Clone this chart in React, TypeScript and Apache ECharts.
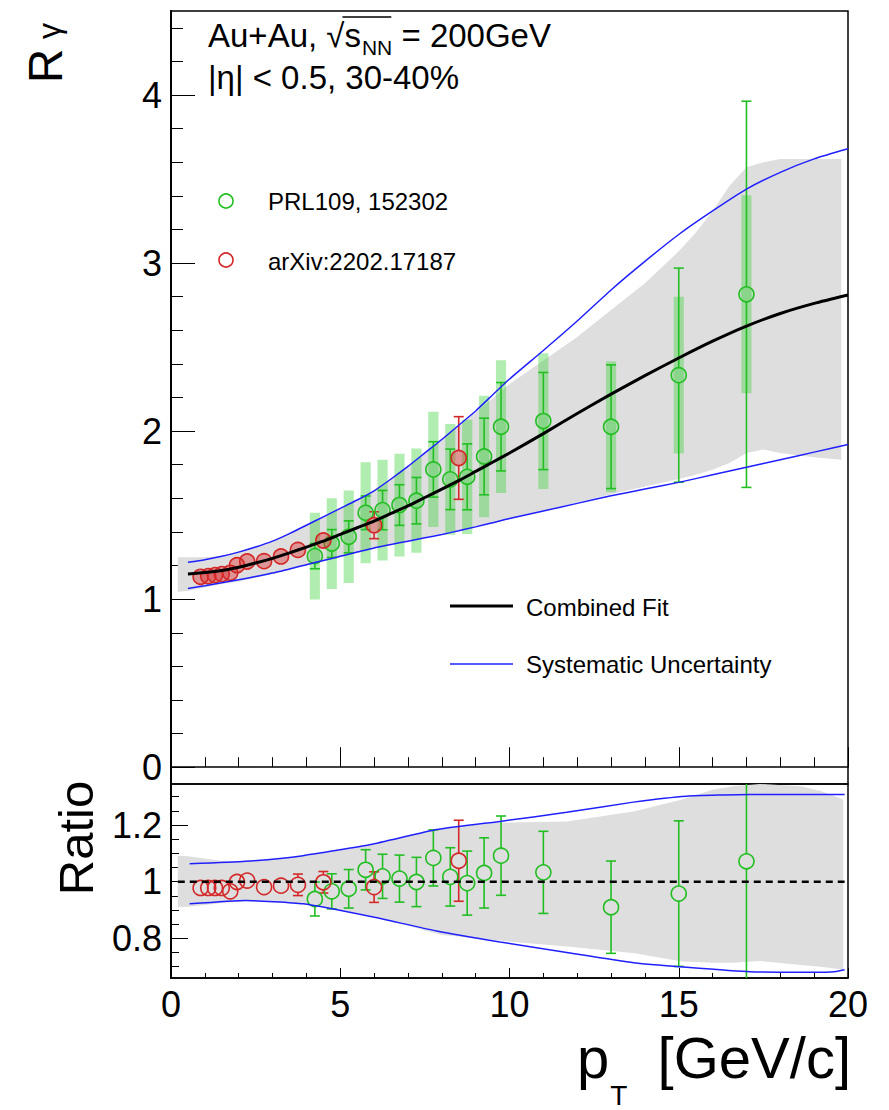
import React, { useEffect, useRef } from "react";
import * as echarts from "echarts";

const FONT = '"Liberation Sans", Arial, Helvetica, sans-serif';

// ---------------- data ----------------
// PRL109, 152302 (green)
const greenPt = [4.25, 4.75, 5.25, 5.75, 6.25, 6.75, 7.25, 7.75, 8.25, 8.75, 9.25, 9.75, 11, 13, 15, 17];
const greenR = [1.256, 1.331, 1.371, 1.514, 1.53, 1.56, 1.586, 1.772, 1.713, 1.728, 1.849, 2.026, 2.06, 2.026, 2.333, 2.814];
const greenStat = [0.075, 0.083, 0.095, 0.1, 0.117, 0.121, 0.138, 0.165, 0.18, 0.196, 0.228, 0.263, 0.289, 0.368, 0.637, 1.149];
const greenSys = [0.258, 0.27, 0.275, 0.3, 0.3, 0.306, 0.31, 0.343, 0.33, 0.34, 0.361, 0.395, 0.404, 0.39, 0.466, 0.589];
const greenRatio = [0.939, 0.966, 0.975, 1.042, 1.019, 1.011, 0.999, 1.084, 1.017, 0.995, 1.031, 1.092, 1.033, 0.91, 0.958, 1.072];
const greenRatioErr = [0.06, 0.062, 0.068, 0.071, 0.078, 0.083, 0.087, 0.099, 0.103, 0.113, 0.124, 0.14, 0.145, 0.163, 0.257, 0.42];

// arXiv:2202.17187 (red)
const redPt = [0.875, 1.1, 1.3, 1.5, 1.75, 1.95, 2.25, 2.75, 3.25, 3.75, 4.5, 6.0, 8.5];
const redR = [1.133, 1.137, 1.143, 1.149, 1.157, 1.202, 1.224, 1.226, 1.254, 1.293, 1.349, 1.44, 1.84];
const redStat = [0.01, 0.01, 0.01, 0.01, 0.01, 0.01, 0.012, 0.015, 0.02, 0.045, 0.048, 0.08, 0.246];
const redRatio = [0.978, 0.978, 0.978, 0.978, 0.966, 0.999, 1.004, 0.981, 0.986, 0.989, 0.998, 0.981, 1.074];
const redRatioErr = [0.008, 0.008, 0.008, 0.008, 0.008, 0.008, 0.01, 0.012, 0.015, 0.038, 0.038, 0.054, 0.143];

// combined fit and its systematic uncertainty (blue)
const fitPt = [0.5, 1, 1.5, 2, 2.5, 3, 3.5, 4, 4.5, 5, 5.5, 6, 6.5, 7, 7.5, 8, 8.5, 9, 9.5, 10, 11, 12, 13, 14, 15, 16, 17, 18, 19, 20];
const fitR = [1.15, 1.158, 1.17, 1.19, 1.215, 1.243, 1.275, 1.31, 1.345, 1.385, 1.425, 1.465, 1.51, 1.555, 1.605, 1.655, 1.705, 1.76, 1.815, 1.87, 1.985, 2.105, 2.22, 2.33, 2.435, 2.535, 2.625, 2.7, 2.76, 2.81];
const sysUpR = [1.22, 1.235, 1.255, 1.28, 1.31, 1.345, 1.39, 1.44, 1.49, 1.54, 1.59, 1.645, 1.715, 1.79, 1.87, 1.95, 2.035, 2.12, 2.215, 2.31, 2.48, 2.655, 2.84, 3.01, 3.17, 3.31, 3.44, 3.54, 3.62, 3.68];
const sysLoR = [1.064, 1.08, 1.097, 1.115, 1.135, 1.155, 1.18, 1.205, 1.23, 1.255, 1.28, 1.305, 1.325, 1.345, 1.365, 1.385, 1.407, 1.43, 1.455, 1.48, 1.525, 1.57, 1.615, 1.655, 1.695, 1.74, 1.785, 1.83, 1.875, 1.92];

// grey band (top panel)
const bandPt = [0.2, 0.5, 1, 1.5, 2, 3, 4, 5, 6, 7, 8, 9, 10, 11, 12, 13, 14, 15, 15.5, 16, 16.5, 17, 17.5, 18, 19, 19.8];
const bandUp = [1.25, 1.25, 1.25, 1.256, 1.285, 1.345, 1.44, 1.54, 1.645, 1.79, 1.95, 2.11, 2.28, 2.42, 2.56, 2.72, 2.88, 3.07, 3.18, 3.31, 3.46, 3.57, 3.6, 3.62, 3.62, 3.62];
const bandLo = [1.043, 1.05, 1.07, 1.09, 1.105, 1.15, 1.2, 1.25, 1.3, 1.345, 1.39, 1.43, 1.48, 1.525, 1.575, 1.625, 1.67, 1.715, 1.74, 1.77, 1.81, 1.87, 1.89, 1.87, 1.845, 1.83];

// ratio panel: grey band and blue systematic lines
const rBandPt = [0.2, 0.5, 1, 1.5, 2.2, 4, 6, 8, 9.7, 11.7, 13.7, 15.1, 16, 16.6, 17.4, 18.6, 19.2, 19.86];
const rBandUp = [1.092, 1.09, 1.082, 1.073, 1.072, 1.092, 1.131, 1.19, 1.208, 1.213, 1.249, 1.29, 1.325, 1.337, 1.345, 1.337, 1.32, 1.29];
const rBandLo = [0.91, 0.912, 0.918, 0.925, 0.932, 0.922, 0.877, 0.812, 0.792, 0.771, 0.747, 0.718, 0.714, 0.714, 0.72, 0.706, 0.7, 0.689];
const rSysPt = [0.55, 2.2, 3.9, 5.9, 7.85, 9.72, 11.69, 13.66, 15.23, 17.1, 19.0, 19.6, 19.9];
const rSysUp = [1.063, 1.072, 1.092, 1.131, 1.184, 1.213, 1.245, 1.281, 1.302, 1.308, 1.308, 1.308, 1.308];
const rSysLo = [0.922, 0.934, 0.922, 0.877, 0.826, 0.787, 0.75, 0.714, 0.698, 0.682, 0.68, 0.682, 0.689];
const unityPt = [0.2, 19.9];
const unityVal = [1, 1];

// tick labels
const xTicks = [0, 5, 10, 15, 20];
const yMajor = [0, 1, 2, 3, 4];
const yMinor = [0.2, 0.4, 0.6, 0.8, 1.2, 1.4, 1.6, 1.8, 2.2, 2.4, 2.6, 2.8, 3.2, 3.4, 3.6, 3.8, 4.2, 4.4];
const rMajor = [0.8, 1, 1.2];
const rMinor = [0.7, 0.75, 0.85, 0.9, 0.95, 1.05, 1.1, 1.15, 1.25, 1.3];

const GREEN = "#22bf22";
const RED = "#d42828";
const BLUE = "#2020ff";
const GREY = "#dedede";

function zip(a: number[], b: number[], c?: number[]) {
  return a.map((v, i) => (c ? [v, b[i], c[i]] : [v, b[i]]));
}

function measure(text: string, size: number) {
  const ctx = document.createElement("canvas").getContext("2d")!;
  ctx.font = `${size}px "Liberation Sans"`;
  return ctx.measureText(text).width;
}

function bandSeries(xs: number[], up: number[], lo: number[], xi: number, yi: number) {
  return {
    type: "custom",
    xAxisIndex: xi,
    yAxisIndex: yi,
    clip: true,
    silent: true,
    data: [[xs[0], up[0]]],
    encode: { x: 0, y: 1 },
    renderItem: (_p: any, api: any) => {
      const pts: number[][] = [];
      xs.forEach((x, i) => pts.push(api.coord([x, up[i]])));
      for (let i = xs.length - 1; i >= 0; i--) pts.push(api.coord([xs[i], lo[i]]));
      return { type: "polygon", shape: { points: pts }, style: { fill: GREY } };
    },
  };
}

function errSeries(data: number[][], color: string, xi: number, yi: number, r: number) {
  return {
    type: "custom",
    xAxisIndex: xi,
    yAxisIndex: yi,
    clip: true,
    silent: true,
    data,
    encode: { x: 0, y: 1 },
    renderItem: (_p: any, api: any) => {
      const x = api.value(0);
      const y = api.value(1);
      const e = api.value(2);
      const c = api.coord([x, y]);
      const t = api.coord([x, y + e]);
      const b = api.coord([x, y - e]);
      const st = { stroke: color, lineWidth: 1.6 };
      const ch: any[] = [];
      if (c[1] - t[1] > r + 1) {
        ch.push({ type: "line", shape: { x1: c[0], y1: c[1] - r, x2: c[0], y2: t[1] }, style: st });
        ch.push({ type: "line", shape: { x1: c[0] - 5, y1: t[1], x2: c[0] + 5, y2: t[1] }, style: st });
      }
      if (b[1] - c[1] > r + 1) {
        ch.push({ type: "line", shape: { x1: c[0], y1: c[1] + r, x2: c[0], y2: b[1] }, style: st });
        ch.push({ type: "line", shape: { x1: c[0] - 5, y1: b[1], x2: c[0] + 5, y2: b[1] }, style: st });
      }
      return { type: "group", children: ch };
    },
  };
}

function boxSeries(data: number[][], xi: number, yi: number) {
  return {
    type: "custom",
    xAxisIndex: xi,
    yAxisIndex: yi,
    clip: true,
    silent: true,
    data,
    encode: { x: 0, y: 1 },
    renderItem: (_p: any, api: any) => {
      const x = api.value(0);
      const y = api.value(1);
      const s = api.value(2);
      const p1 = api.coord([x - 0.15, y + s]);
      const p2 = api.coord([x + 0.15, y - s]);
      return {
        type: "rect",
        shape: { x: p1[0], y: p1[1], width: p2[0] - p1[0], height: p2[1] - p1[1] },
        style: { fill: "rgba(60,210,60,0.4)" },
      };
    },
  };
}

function lineSeries(xs: number[], ys: number[], color: string, width: number, xi: number, yi: number, smooth: number | boolean, dash?: any) {
  return {
    type: "line",
    xAxisIndex: xi,
    yAxisIndex: yi,
    data: zip(xs, ys),
    showSymbol: false,
    symbol: "none",
    smooth,
    silent: true,
    clip: true,
    lineStyle: { color, width, type: dash || "solid" },
  };
}

function markerSeries(data: number[][], color: string, fill: string, xi: number, yi: number) {
  return {
    type: "scatter",
    xAxisIndex: xi,
    yAxisIndex: yi,
    data,
    symbol: "circle",
    symbolSize: 15,
    silent: true,
    clip: true,
    itemStyle: { color: fill, borderColor: color, borderWidth: 1.6, opacity: 1 },
  };
}

export default function App() {
  const ref = useRef<HTMLDivElement>(null);

  useEffect(() => {
    if (!ref.current) return;
    const chart = echarts.init(ref.current, null, { renderer: "svg" });

    const tickStyle = { color: "#000", width: 1 };
    const xAxisBase = {
      type: "value",
      min: 0,
      max: 20,
      interval: 5,
      splitLine: { show: false },
      minorSplitLine: { show: false },
      axisLine: { show: true, lineStyle: { color: "#000", width: 1.5 } },
    };

    // header text layout
    const fs = 33;
    const hx = 208;
    const hb = 47;
    const wA = measure("Au+Au, ", fs);
    const wR = measure("\u221A", fs);
    const wS = measure("s", fs);
    const wNN = measure("NN", 21);
    const xR = hx + wA;
    const xS = xR + wR;
    const xNN = xS + wS + 1;
    const xEq = xNN + wNN;
    const mid = (b: number, s: number) => b - 0.35 * s;
    const txt = (text: string, x: number, y: number, size: number, extra: any = {}) => ({
      type: "text",
      x,
      y,
      style: {
        text,
        fill: "#000",
        font: `${size}px ${FONT}`,
        align: "left",
        verticalAlign: "middle",
        ...extra,
      },
    });

    const wp = measure("p", 58);

    const option: any = {
      animation: false,
      backgroundColor: "#fff",
      grid: [
        { left: 171, top: 11, width: 677, height: 773, show: true, borderColor: "#000", borderWidth: 1.5, backgroundColor: "transparent" },
        { left: 171, top: 784, width: 677, height: 194, show: true, borderColor: "#000", borderWidth: 1.5, backgroundColor: "transparent" },
      ],
      xAxis: [
        {
          ...xAxisBase,
          gridIndex: 0,
          axisLabel: { show: false },
          axisTick: { show: true, inside: true, length: 20, lineStyle: tickStyle },
          minorTick: { show: true, splitNumber: 5, length: 10, lineStyle: tickStyle },
        },
        {
          ...xAxisBase,
          gridIndex: 1,
          axisLabel: {
            show: true,
            customValues: xTicks,
            color: "#000",
            fontSize: 36,
            fontFamily: FONT,
            margin: 8,
          },
          axisTick: { show: true, inside: true, length: 10, lineStyle: tickStyle },
          minorTick: { show: true, splitNumber: 5, length: 5, lineStyle: tickStyle },
        },
      ],
      yAxis: [
        {
          type: "value",
          gridIndex: 0,
          position: "left",
          min: -0.1,
          max: 4.5,
          splitLine: { show: false },
          axisLine: { show: true, lineStyle: { color: "#000", width: 2 } },
          axisLabel: { show: true, customValues: yMajor, color: "#000", fontSize: 36, fontFamily: FONT, margin: 9 },
          axisTick: { show: true, inside: true, customValues: yMajor, length: 24, lineStyle: tickStyle },
        },
        {
          type: "value",
          gridIndex: 0,
          position: "left",
          offset: 0,
          min: -0.1,
          max: 4.5,
          splitLine: { show: false },
          axisLine: { show: false },
          axisLabel: { show: false },
          axisTick: { show: true, inside: true, customValues: yMinor, length: 12, lineStyle: tickStyle },
        },
        {
          type: "value",
          gridIndex: 1,
          position: "left",
          min: 0.66,
          max: 1.345,
          splitLine: { show: false },
          axisLine: { show: true, lineStyle: { color: "#000", width: 2 } },
          axisLabel: {
            show: true,
            customValues: rMajor,
            color: "#000",
            fontSize: 36,
            fontFamily: FONT,
            margin: 9,
            formatter: (v: number) => String(Math.round(v * 10) / 10),
          },
          axisTick: { show: true, inside: true, customValues: rMajor, length: 17, lineStyle: tickStyle },
        },
        {
          type: "value",
          gridIndex: 1,
          position: "left",
          offset: 0,
          min: 0.66,
          max: 1.345,
          splitLine: { show: false },
          axisLine: { show: false },
          axisLabel: { show: false },
          axisTick: { show: true, inside: true, customValues: rMinor, length: 8, lineStyle: tickStyle },
        },
      ],
      series: [
        // top panel
        bandSeries(bandPt, bandUp, bandLo, 0, 0),
        boxSeries(zip(greenPt, greenR, greenSys), 0, 0),
        lineSeries(fitPt, sysUpR, BLUE, 1.5, 0, 0, 0.2),
        lineSeries(fitPt, sysLoR, BLUE, 1.5, 0, 0, 0.2),
        lineSeries(fitPt, fitR, "#000", 3, 0, 0, 0.2),
        errSeries(zip(greenPt, greenR, greenStat), GREEN, 0, 0, 7.5),
        errSeries(zip(redPt, redR, redStat), RED, 0, 0, 7.5),
        markerSeries(zip(greenPt, greenR), GREEN, "rgba(60,200,60,0.2)", 0, 0),
        markerSeries(zip(redPt, redR), RED, "rgba(220,40,40,0.4)", 0, 0),
        // ratio panel
        bandSeries(rBandPt, rBandUp, rBandLo, 1, 2),
        lineSeries(rSysPt, rSysUp, BLUE, 1.5, 1, 2, 0.15),
        lineSeries(rSysPt, rSysLo, BLUE, 1.5, 1, 2, 0.15),
        lineSeries(unityPt, unityVal, "#000", 2.5, 1, 2, false, [7, 5]),
        errSeries(zip(greenPt, greenRatio, greenRatioErr), GREEN, 1, 2, 7.5),
        errSeries(zip(redPt, redRatio, redRatioErr), RED, 1, 2, 7.5),
        markerSeries(zip(greenPt, greenRatio), GREEN, "rgba(255,255,255,0)", 1, 2),
        markerSeries(zip(redPt, redRatio), RED, "rgba(255,255,255,0)", 1, 2),
      ],
      graphic: [
        // header
        txt("Au+Au, ", hx, mid(hb, fs), fs),
        txt("\u221A", xR, mid(hb, fs), fs),
        txt("s", xS, mid(hb, fs), fs),
        txt("NN", xNN, mid(hb + 8, 21), 21),
        txt(" = 200GeV", xEq, mid(hb, fs), fs),
        { type: "line", shape: { x1: xR + wR - 2, y1: 17, x2: xEq - 1, y2: 17 }, style: { stroke: "#000", lineWidth: 1.5 } },
        txt("|\u03B7| < 0.5, 30-40%", hx, mid(89, fs), fs),
        // legend: data sets
        { type: "circle", shape: { cx: 226, cy: 201, r: 7 }, style: { fill: "none", stroke: GREEN, lineWidth: 1.6 } },
        txt("PRL109, 152302", 268, 201, 24),
        { type: "circle", shape: { cx: 226, cy: 260, r: 7 }, style: { fill: "none", stroke: RED, lineWidth: 1.6 } },
        txt("arXiv:2202.17187", 268, 261, 24),
        // legend: lines
        { type: "line", shape: { x1: 450, y1: 606, x2: 513, y2: 606 }, style: { stroke: "#000", lineWidth: 3 } },
        txt("Combined Fit", 526, 607, 24),
        { type: "line", shape: { x1: 450, y1: 664, x2: 513, y2: 664 }, style: { stroke: BLUE, lineWidth: 1.5 } },
        txt("Systematic Uncertainty", 526, 664, 24),
        // axis titles
        {
          type: "text",
          x: 45,
          y: 66,
          rotation: Math.PI / 2,
          style: { text: "R", fill: "#000", font: `48px ${FONT}`, align: "center", verticalAlign: "middle" },
        },
        {
          type: "text",
          x: 49,
          y: 31,
          rotation: Math.PI / 2,
          style: { text: "\u03B3", fill: "#000", font: `32px ${FONT}`, align: "center", verticalAlign: "middle" },
        },
        {
          type: "text",
          x: 76,
          y: 838,
          rotation: Math.PI / 2,
          style: { text: "Ratio", fill: "#000", font: `49px ${FONT}`, align: "center", verticalAlign: "middle" },
        },
        txt("p", 577, mid(1078, 58), 58),
        txt("T", 577 + wp + 1, mid(1105, 28), 28),
        txt("[GeV/c]", 851, mid(1078, 58), 58, { align: "right" }),
      ],
    };

    chart.setOption(option);
    return () => chart.dispose();
  }, []);

  return (
    <div
      ref={ref}
      style={{ position: "absolute", left: 0, top: 0, width: 889, height: 1110, background: "#fff" }}
    />
  );
}
